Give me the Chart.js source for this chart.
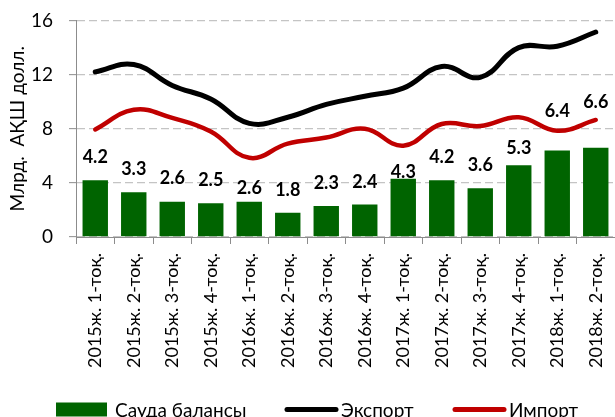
<!DOCTYPE html>
<html><head><meta charset="utf-8">
<script src="https://cdn.jsdelivr.net/npm/chart.js@4"></script>
<style>html,body{margin:0;padding:0;background:#fff;overflow:hidden}</style>
</head><body>
<canvas id="c" width="615" height="417"></canvas>
<script>
// ---- data ----
const categories = ['2015ж. 1-тоқ.','2015ж. 2-тоқ.','2015ж. 3-тоқ.','2015ж. 4-тоқ.',
  '2016ж. 1-тоқ.','2016ж. 2-тоқ.','2016ж. 3-тоқ.','2016ж. 4-тоқ.',
  '2017ж. 1-тоқ.','2017ж. 2-тоқ.','2017ж. 3-тоқ.','2017ж. 4-тоқ.',
  '2018ж. 1-тоқ.','2018ж. 2-тоқ.'];
const balanceValues = [4.2, 3.3, 2.6, 2.5, 2.6, 1.8, 2.3, 2.4, 4.3, 4.2, 3.6, 5.3, 6.4, 6.6];
const exportValues = [12.2, 12.75, 11.2, 10.2, 8.4, 8.85, 9.8, 10.4, 11.0, 12.6, 11.8, 14.0, 14.1, 15.15];
const importValues = [7.95, 9.4, 8.8, 7.8, 5.85, 6.9, 7.35, 8.0, 6.75, 8.35, 8.2, 8.85, 7.85, 8.65];
const yTicks = [0, 4, 8, 12, 16];
const seriesNames = ['Сауда балансы', 'Экспорт', 'Импорт'];
const yTitle = 'Млрд.  АҚШ долл.';

// ---- styles ----
const FONT = "Lato, 'Liberation Sans', Arial, sans-serif";
const GREEN = '#006400', BLACK = '#000000', RED = '#c00000', AXIS = '#8c8c8c';
const labelLift = [17, 17, 18, 17, 8, 17, 17, 17, 1, 17, 17, 11, 33, 40];
const legendStarts = [56, 285, 453];

const barLabels = {
  id: 'barLabels',
  afterDatasetsDraw(chart) {
    const meta = chart.getDatasetMeta(0);
    const ctx = chart.ctx;
    ctx.save();
    ctx.font = 'bold 18px ' + FONT;
    ctx.fillStyle = '#000';
    ctx.textAlign = 'center';
    ctx.textBaseline = 'alphabetic';
    meta.data.forEach((el, i) => {
      ctx.fillText(balanceValues[i].toFixed(1), el.x, el.y - labelLift[i]);
    });
    ctx.restore();
  }
};

const customLegend = {
  id: 'customLegend',
  afterDraw(chart) {
    const ctx = chart.ctx;
    ctx.save();
    ctx.font = '19px ' + FONT;
    const sw = 53, gaps = [6, 3, 3];
    const y = 409.5;
    chart.data.datasets.forEach((d, i) => {
      let x = legendStarts[i];
      if (d.type === 'bar') {
        ctx.fillStyle = d.backgroundColor;
        ctx.fillRect(x, y - 7, sw - 2, 14);
      } else {
        ctx.strokeStyle = d.borderColor;
        ctx.lineWidth = 5;
        ctx.lineCap = 'round';
        ctx.beginPath();
        ctx.moveTo(x + 2, y); ctx.lineTo(x + sw - 2, y);
        ctx.stroke();
      }
      x += sw + gaps[i];
      ctx.fillStyle = '#000';
      ctx.textAlign = 'left';
      ctx.textBaseline = 'middle';
      ctx.fillText(d.label, x, y + 1);
    });
    ctx.restore();
  }
};

new Chart(document.getElementById('c'), {
  data: {
    labels: categories,
    datasets: [
      { type: 'bar', label: seriesNames[0], data: balanceValues, backgroundColor: GREEN,
        barPercentage: 0.66, categoryPercentage: 1.0, order: 2 },
      { type: 'line', label: seriesNames[1], data: exportValues, borderColor: BLACK,
        borderWidth: 5, tension: 0.42, pointRadius: 0, borderCapStyle: 'round', fill: false, order: 1 },
      { type: 'line', label: seriesNames[2], data: importValues, borderColor: RED,
        borderWidth: 4.5, tension: 0.42, pointRadius: 0, borderCapStyle: 'round', fill: false, order: 1 }
    ]
  },
  options: {
    responsive: false,
    animation: false,
    devicePixelRatio: 1,
    layout: { padding: { left: 0, top: 20.5, right: 0, bottom: 0 } },
    plugins: { legend: { display: false }, tooltip: { enabled: false } },
    scales: {
      x: {
        offset: true,
        afterFit(scale) { scale.paddingLeft = 0; scale.paddingRight = 0; scale.height = 180; },
        grid: { offset: true, drawOnChartArea: false, drawTicks: true, tickLength: 7, color: AXIS, tickColor: AXIS },
        border: { display: true, color: AXIS, width: 1 },
        ticks: { minRotation: 90, maxRotation: 90, autoSkip: false, padding: 9,
                 color: '#000', font: { family: FONT, size: 18 } }
      },
      y: {
        min: 0, max: 16,
        afterFit(scale) { scale.width = 76; scale.paddingTop = 0; scale.paddingBottom = 0; },
        afterBuildTicks(scale) { scale.ticks = yTicks.map(v => ({ value: v })); },
        grid: { color: '#c4c4c4', lineWidth: 1.3, drawTicks: true, tickLength: 7, tickColor: AXIS, tickBorderDash: [], tickWidth: 1 },
        border: { display: true, color: AXIS, width: 1, dash: [8, 4] },
        ticks: { padding: 16, color: '#000', font: { family: FONT, size: 19 } },
        title: { display: true, text: yTitle, color: '#000', font: { family: FONT, size: 19 }, padding: { top: 6, bottom: 4 } }
      }
    }
  },
  plugins: [barLabels, customLegend]
});
</script>
</body></html>
